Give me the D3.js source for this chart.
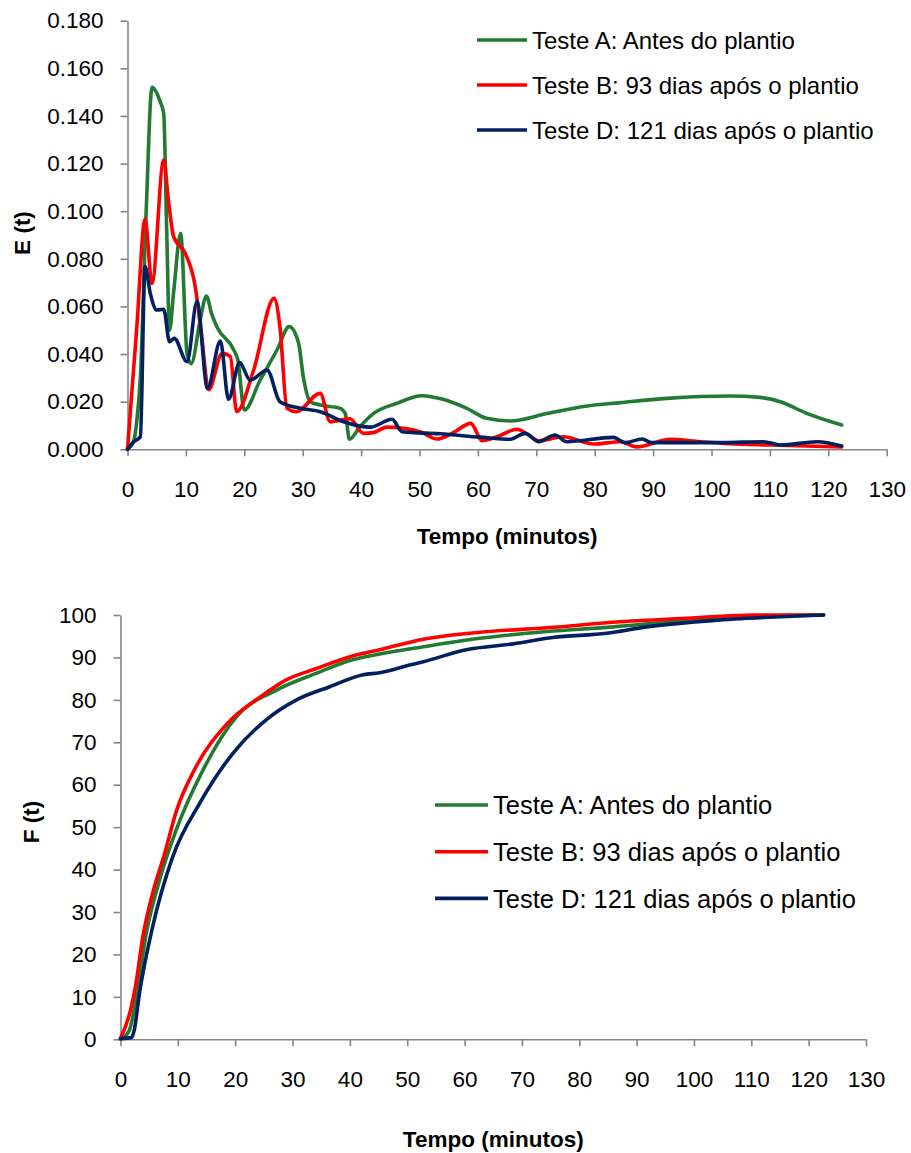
<!DOCTYPE html>
<html>
<head>
<meta charset="utf-8">
<script src="https://cdn.jsdelivr.net/npm/d3@7"></script>
<style>
  body { margin: 0; background: #fff; }
  svg text { font-family: "Liberation Sans", Arial, sans-serif; }
</style>
</head>
<body>
<svg id="chart" width="911" height="1153"></svg>
<script>
// series names
const seriesNames = ['Teste A: Antes do plantio', 'Teste B: 93 dias após o plantio', 'Teste D: 121 dias após o plantio'];

// E(t) curves
const timeEA = [0, 1.0, 1.6, 2.2, 3.2, 4.2, 5.6, 6.2, 6.7, 7.2, 7.9, 9.1, 10.2, 10.9, 12.5, 13.5, 14.4, 15.3, 18.2, 18.9, 20.0, 22.7, 25.6, 27.7, 29.3, 30.1, 31.3, 33.0, 36.4, 37.3, 38.0, 39.8, 42.1, 46.1, 50.4, 54.0, 58.1, 61.5, 65.5, 71.8, 78.7, 84.4, 92.4, 103.2, 108.3, 111.8, 116.3, 122.3];
const valueEA = [0, 0.003, 0.012, 0.03, 0.10, 0.152, 0.146, 0.141, 0.093, 0.050, 0.066, 0.0907, 0.040, 0.036, 0.055, 0.0644, 0.057, 0.0515, 0.0417, 0.0375, 0.0165, 0.029, 0.0417, 0.0515, 0.0445, 0.0305, 0.020, 0.0186, 0.0172, 0.015, 0.0042, 0.0095, 0.015, 0.0193, 0.0225, 0.021, 0.0172, 0.013, 0.0119, 0.015, 0.0182, 0.0196, 0.0214, 0.0224, 0.0218, 0.020, 0.0151, 0.0102];

const timeEB = [0, 1.6, 3.0, 4.2, 6.2, 7.0, 7.9, 9.9, 11.6, 12.7, 13.9, 16.2, 17.6, 18.7, 21.6, 25.1, 26.1, 27.3, 28.9, 33.0, 34.7, 38.1, 40.4, 42.1, 44.4, 50.1, 53.0, 55.8, 58.8, 60.7, 63.3, 66.7, 68.4, 70.4, 74.7, 79.8, 84.4, 87.2, 92.9, 98.1, 104.0, 110.0, 116.3, 122.3];
const valueEB = [0, 0.0515, 0.0966, 0.0697, 0.1215, 0.1047, 0.0893, 0.0823, 0.0683, 0.0473, 0.025, 0.0403, 0.039, 0.0158, 0.0333, 0.0634, 0.0515, 0.0172, 0.0158, 0.0235, 0.0116, 0.0128, 0.0067, 0.007, 0.0093, 0.0074, 0.0043, 0.007, 0.0109, 0.0036, 0.0053, 0.0084, 0.0065, 0.0036, 0.0053, 0.0022, 0.0032, 0.001, 0.0042, 0.0032, 0.0022, 0.0018, 0.0014, 0.001];

const timeED = [0, 1.0, 2.2, 3.0, 3.9, 5.0, 6.2, 7.2, 8.0, 10.2, 11.9, 13.7, 15.9, 17.3, 19.2, 21.0, 23.9, 26.1, 29.6, 33.0, 37.0, 41.6, 45.3, 47.0, 53.5, 60.4, 65.5, 68.1, 70.4, 73.2, 75.2, 83.2, 85.2, 88.1, 89.8, 102.0, 108.9, 111.8, 118.1, 122.3];
const valueED = [0, 0.003, 0.0053, 0.0767, 0.0655, 0.0585, 0.0588, 0.0452, 0.0466, 0.0368, 0.062, 0.0256, 0.0455, 0.021, 0.0364, 0.029, 0.0333, 0.020, 0.0172, 0.0158, 0.0116, 0.0093, 0.0126, 0.0074, 0.0065, 0.0051, 0.0042, 0.0067, 0.0032, 0.006, 0.0032, 0.005, 0.0028, 0.0043, 0.0028, 0.0028, 0.0032, 0.0018, 0.0032, 0.0014];

// F(t) curves
const timeFA = [0, 1.5, 2.7, 4.5, 6.8, 9.7, 14.4, 20.2, 27.2, 34.2, 40.3, 45.2, 52.8, 62.7, 74.3, 85.9, 97.6, 109.2, 122.6];
const valueFA = [0, 2, 9.3, 25.0, 37.5, 49.3, 63.5, 76.0, 82.3, 86.3, 89.4, 90.8, 92.5, 94.5, 96.1, 97.2, 98.6, 99.6, 100];

const timeFB = [0, 1.9, 2.7, 3.9, 5.6, 7.7, 9.7, 13.2, 18.4, 24.8, 28.9, 34.2, 40.3, 45.2, 52.8, 60.9, 75.4, 87.1, 101.0, 110.4, 122.6];
const valueFB = [0.2, 7.7, 13.2, 24.2, 34.4, 43.8, 53.6, 64.3, 74.1, 81.1, 84.7, 87.4, 90.3, 91.8, 94.3, 95.7, 97.1, 98.4, 99.4, 100, 100];

const timeFD = [0, 1.9, 2.4, 3.3, 5.6, 9.1, 13.8, 19.6, 25.4, 30.7, 36.5, 42.3, 45.2, 50.4, 52.8, 60.3, 68.5, 75.4, 84.8, 91.7, 103.4, 112.1, 122.6];
const valueFD = [0.2, 0.4, 2.2, 10.8, 26.5, 43.0, 55.6, 67.4, 75.3, 80.0, 83.1, 85.9, 86.4, 88.2, 89.0, 91.8, 93.2, 94.7, 95.7, 97.2, 98.7, 99.4, 100];

// tick labels
const xTicks = d3.range(0, 131, 10);
const yTicksE = [0, 0.02, 0.04, 0.06, 0.08, 0.1, 0.12, 0.14, 0.16, 0.18];
const yTicksF = [0, 10, 20, 30, 40, 50, 60, 70, 80, 90, 100];

const colors = ['#237a33', '#ff0000', '#002060'];
const axisColor = '#868686';
const fontSize = '22.5px';

const svg = d3.select('#chart');

const zip = (ts, vs) => ts.map((t, i) => [t, vs[i]]);

const drawPanel = (opts) => {
  const { x, y, yTicks, yFormat, series, curve, yTitle, yTitlePos, xTitleY, legend } = opts;

  // y axis
  const gy = svg.append('g')
    .attr('transform', `translate(${x.range()[0]},0)`)
    .call(d3.axisLeft(y).tickValues(yTicks).tickFormat(yFormat).tickSize(7).tickSizeOuter(0).tickPadding(17));

  // x axis
  const gx = svg.append('g')
    .attr('transform', `translate(0,${y.range()[0]})`)
    .call(d3.axisBottom(x).tickValues(xTicks).tickSize(7).tickSizeOuter(0).tickPadding(25));

  [gx, gy].forEach(g => {
    g.select('.domain').attr('stroke', axisColor).attr('stroke-width', 1.6);
    g.selectAll('.tick line').attr('stroke', axisColor).attr('stroke-width', 1.6);
    g.selectAll('.tick text').attr('fill', '#000').style('font-size', fontSize);
  });

  // lines
  const line = d3.line().x(d => x(d[0])).y(d => y(d[1])).curve(curve);
  series.forEach((s, i) => {
    svg.append('path')
      .datum(s)
      .attr('fill', 'none')
      .attr('stroke', colors[i])
      .attr('stroke-width', 3.6)
      .attr('stroke-linejoin', 'round')
      .attr('stroke-linecap', 'round')
      .attr('d', line);
  });

  // axis titles
  svg.append('text')
    .attr('transform', `translate(${yTitlePos[0]},${yTitlePos[1]}) rotate(-90)`)
    .attr('text-anchor', 'middle')
    .attr('dy', '0.35em')
    .style('font-size', fontSize)
    .style('font-weight', 'bold')
    .text(yTitle);

  svg.append('text')
    .attr('x', (x.range()[0] + x.range()[1]) / 2)
    .attr('y', xTitleY)
    .attr('text-anchor', 'middle')
    .style('font-size', fontSize)
    .style('font-weight', 'bold')
    .text('Tempo (minutos)');

  // legend
  const lg = svg.append('g');
  seriesNames.forEach((name, i) => {
    const ly = legend.y + i * legend.step;
    lg.append('line')
      .attr('x1', legend.x).attr('x2', legend.x + legend.len)
      .attr('y1', ly).attr('y2', ly)
      .attr('stroke', colors[i]).attr('stroke-width', 3.6);
    lg.append('text')
      .attr('x', legend.x + legend.len + 5)
      .attr('y', ly)
      .attr('dy', '0.36em')
      .style('font-size', legend.font)
      .text(name);
  });
};

// top panel: E(t)
drawPanel({
  x: d3.scaleLinear().domain([0, 130]).range([127.5, 886.7]),
  y: d3.scaleLinear().domain([0, 0.18]).range([449.3, 20.7]),
  yTicks: yTicksE,
  yFormat: d3.format('.3f'),
  series: [zip(timeEA, valueEA), zip(timeEB, valueEB), zip(timeED, valueED)],
  curve: d3.curveMonotoneX,
  yTitle: 'E (t)',
  yTitlePos: [22, 233],
  xTitleY: 544,
  legend: { x: 477, y: 40, step: 45, len: 50, font: '24px' }
});

// bottom panel: F(t)
drawPanel({
  x: d3.scaleLinear().domain([0, 130]).range([120.5, 866]),
  y: d3.scaleLinear().domain([0, 100]).range([1039.3, 615]),
  yTicks: yTicksF,
  yFormat: d3.format('d'),
  series: [zip(timeFA, valueFA), zip(timeFB, valueFB), zip(timeFD, valueFD)],
  curve: d3.curveMonotoneX,
  yTitle: 'F (t)',
  yTitlePos: [31, 822],
  xTitleY: 1147,
  legend: { x: 435, y: 805, step: 46.7, len: 53, font: '25.5px' }
});
</script>
</body>
</html>
